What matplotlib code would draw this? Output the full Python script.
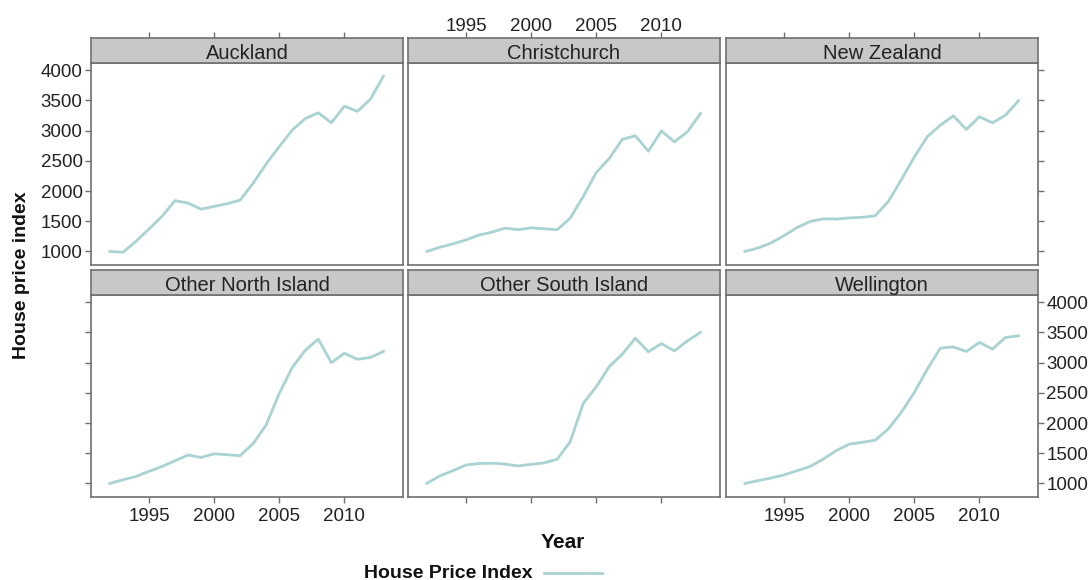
import matplotlib
matplotlib.use("Agg")
import matplotlib.pyplot as plt
from matplotlib.lines import Line2D

plt.rcParams["font.family"] = ["Liberation Sans", "DejaVu Sans"]

years = list(range(1992, 2014))

auckland = [1000, 985, 1165, 1370, 1580, 1840, 1800, 1700, 1745, 1790, 1850,
            2130, 2450, 2735, 3010, 3200, 3295, 3130, 3405, 3320, 3520, 3900]
christchurch = [1000, 1070, 1125, 1190, 1270, 1320, 1385, 1360, 1390, 1375, 1360,
                1550, 1910, 2305, 2540, 2855, 2915, 2660, 2995, 2815, 2980, 3285]
new_zealand = [1000, 1055, 1140, 1260, 1395, 1495, 1540, 1535, 1555, 1565, 1590,
               1825, 2185, 2560, 2900, 3090, 3245, 3020, 3230, 3130, 3255, 3495]
other_north = [1000, 1060, 1115, 1200, 1280, 1375, 1470, 1430, 1490, 1475, 1460,
               1660, 1970, 2490, 2920, 3205, 3390, 3000, 3155, 3055, 3085, 3185]
other_south = [1000, 1125, 1210, 1305, 1330, 1335, 1320, 1290, 1315, 1340, 1400,
               1690, 2325, 2600, 2935, 3140, 3405, 3180, 3315, 3195, 3360, 3500]
wellington = [1000, 1045, 1090, 1140, 1210, 1280, 1400, 1540, 1650, 1680, 1715,
              1900, 2175, 2505, 2890, 3240, 3260, 3185, 3335, 3225, 3415, 3445]

regions = ["Auckland", "Christchurch", "New Zealand",
           "Other North Island", "Other South Island", "Wellington"]
series = [auckland, christchurch, new_zealand, other_north, other_south, wellington]

x_ticks = [1995, 2000, 2005, 2010]
y_ticks = [1000, 1500, 2000, 2500, 3000, 3500, 4000]

W, H = 1090, 580
fig = plt.figure(figsize=(W / 100, H / 100), dpi=100)

line_color = "#a9d2d2"
frame_color = "#707070"
strip_color = "#c8c8c8"
text_color = "#222222"

tick_fs = 13.5
strip_fs = 14.5

col_left = [91, 408, 726]
panel_w = 312
# (strip top, strip bottom / panel top, panel bottom) in pixels
rows = [(38, 63, 265), (270, 295, 497)]

xlim = (1990.55, 2014.5)
ylim = (775, 4120)


def px_axes(x0, y0, x1, y1):
    return fig.add_axes([x0 / W, 1 - y1 / H, (x1 - x0) / W, (y1 - y0) / H])


def style_frame(ax):
    for sp in ax.spines.values():
        sp.set_color(frame_color)
        sp.set_linewidth(1.2)


for i, (name, vals) in enumerate(zip(regions, series)):
    r, c = divmod(i, 3)
    st, pt, pb = rows[r]
    x0 = col_left[c]
    x1 = x0 + panel_w

    ax = px_axes(x0, pt, x1, pb)
    ax.plot(years, vals, color=line_color, lw=2.0, solid_joinstyle="round")
    ax.set_xlim(*xlim)
    ax.set_ylim(*ylim)
    style_frame(ax)
    ax.set_xticks(x_ticks)
    ax.set_yticks(y_ticks)
    ax.tick_params(direction="out", length=4, width=1, color=frame_color,
                   labelsize=tick_fs, labelcolor=text_color, pad=2)

    # x axis: bottom on lower row (labels alternate), top ticks drawn on the strip
    if r == 1:
        ax.tick_params(axis="x", bottom=True, labelbottom=(c != 1),
                       top=False, labeltop=False, pad=4)
    else:
        ax.tick_params(axis="x", bottom=False, labelbottom=False,
                       top=False, labeltop=False)

    # y axis: left on first column, right on last column
    left_on = c == 0
    right_on = c == 2
    ax.tick_params(axis="y", left=left_on, labelleft=(left_on and r == 0),
                   right=right_on, labelright=(right_on and r == 1))

    # strip
    sax = px_axes(x0, st, x1, pt)
    sax.set_facecolor(strip_color)
    sax.set_xlim(*xlim)
    sax.set_ylim(0, 1)
    style_frame(sax)
    sax.set_yticks([])
    sax.text(0.5, 0.38, name, transform=sax.transAxes, ha="center",
             va="center", fontsize=strip_fs, color=text_color)
    if r == 0:
        sax.set_xticks(x_ticks)
        sax.tick_params(axis="x", bottom=False, labelbottom=False, top=True,
                        labeltop=(c == 1), direction="out", length=4, width=1,
                        color=frame_color, labelsize=tick_fs,
                        labelcolor=text_color, pad=-1.5)
    else:
        sax.set_xticks([])

fig.text(22 / W, 1 - 275 / H, "House price index", rotation=90, ha="center",
         va="center", fontsize=14, fontweight="bold", color="#111111")
fig.text(563 / W, 1 - 543 / H, "Year", ha="center", va="center",
         fontsize=15, fontweight="bold", color="#111111")

# legend key
fig.text(533 / W, 1 - 573 / H, "House Price Index", ha="right", va="center",
         fontsize=14, fontweight="bold", color="#111111")
fig.add_artist(Line2D([544 / W, 602 / W], [1 - 573 / H, 1 - 573 / H],
                      transform=fig.transFigure, color=line_color, lw=2.0))

fig.savefig("out.png", dpi=100, facecolor="white")
